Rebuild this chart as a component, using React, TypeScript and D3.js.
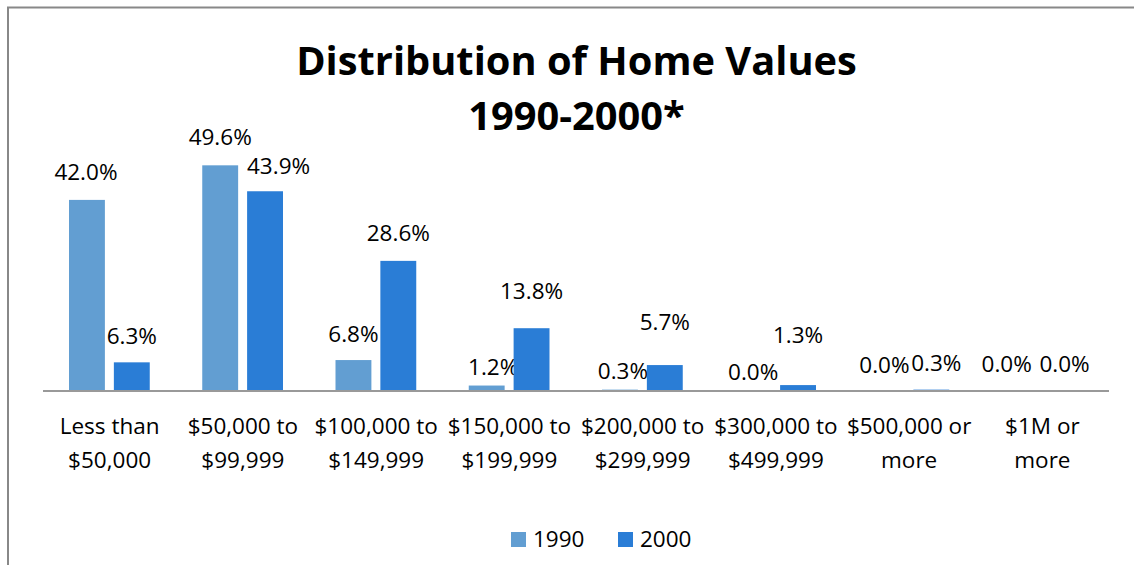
import React from "react";
import * as d3 from "d3";

// chart data
const categories = [
  "Less than|$50,000",
  "$50,000 to|$99,999",
  "$100,000 to|$149,999",
  "$150,000 to|$199,999",
  "$200,000 to|$299,999",
  "$300,000 to|$499,999",
  "$500,000 or|more",
  "$1M or|more",
];
const seriesNames = ["1990", "2000"];
const values1990 = [42.0, 49.6, 6.8, 1.2, 0.3, 0.0, 0.0, 0.0];
const values2000 = [6.3, 43.9, 28.6, 13.8, 5.7, 1.3, 0.3, 0.0];

// layout only: how the original export nudged each data label off its bar
// (vertical gap above bar top, horizontal shift from bar centre), in px
const labelGap1990 = [19.5, 20, 18, 11, 11, 11, 18, 19];
const labelGap2000 = [18, 17, 20, 29, 35, 42, 19, 19];
const labelShift1990 = [-1, 0, 0, 6.5, 3, 0, -2, -13];
const labelShift2000 = [0, 13.5, 0, 0, 0, 0, 5, 0];
const colors = ["#629ED2", "#2A7DD6"];

const W = 1134;
const H = 565;
const FONT = "'Open Sans', 'DejaVu Sans', sans-serif";

const App = () => {
  const series = [values1990, values2000];
  const gaps = [labelGap1990, labelGap2000];
  const shifts = [labelShift1990, labelShift2000];

  const x = d3.scaleBand<string>().domain(categories).range([43, 1109]);
  const xInner = d3
    .scaleBand<string>()
    .domain(seriesNames)
    .range([26, x.bandwidth() - 26.5])
    .paddingInner(0.2);
  const y = d3.scaleLinear().domain([0, 60]).range([391, 118]);

  return (
    <svg
      width={W}
      height={H}
      style={{ position: "absolute", left: 0, top: 0, background: "#fff" }}
      fontFamily={FONT}
    >
      <rect x={8} y={7.5} width={W + 10} height={H + 10} fill="none" stroke="#888" strokeWidth={2} />

      <text x={576.5} y={75} textAnchor="middle" fontSize={39.8} fontWeight="bold" fill="#000">
        Distribution of Home Values
      </text>
      <text x={576.5} y={130} textAnchor="middle" fontSize={39.8} fontWeight="bold" fill="#000">
        1990-2000*
      </text>

      {categories.map((c, i) => (
        <g key={c} transform={`translate(${x(c)},0)`}>
          {series.map((vals, s) => {
            const bx = xInner(seriesNames[s])!;
            const top = y(vals[i]);
            return (
              <g key={s}>
                <rect
                  x={bx}
                  y={top}
                  width={xInner.bandwidth()}
                  height={y(0) - top}
                  fill={colors[s]}
                />
                <text
                  x={bx + xInner.bandwidth() / 2 + shifts[s][i]}
                  y={top - gaps[s][i]}
                  textAnchor="middle"
                  fontSize={22.5}
                  fill="#000"
                >
                  {vals[i].toFixed(1)}%
                </text>
              </g>
            );
          })}
          {c.split("|").map((line, k) => (
            <text
              key={k}
              x={x.bandwidth() / 2}
              y={434 + k * 34}
              textAnchor="middle"
              fontSize={22.5}
              fill="#000"
            >
              {line}
            </text>
          ))}
        </g>
      ))}

      <line x1={43} x2={1109} y1={391} y2={391} stroke="#999" strokeWidth={2} />

      {seriesNames.map((name, s) => {
        const lx = s === 0 ? 511 : 618;
        return (
          <g key={name}>
            <rect x={lx} y={532} width={15} height={15} fill={colors[s]} />
            <text x={lx + 22} y={547} fontSize={22.5} fill="#000">
              {name}
            </text>
          </g>
        );
      })}
    </svg>
  );
};

export default App;
